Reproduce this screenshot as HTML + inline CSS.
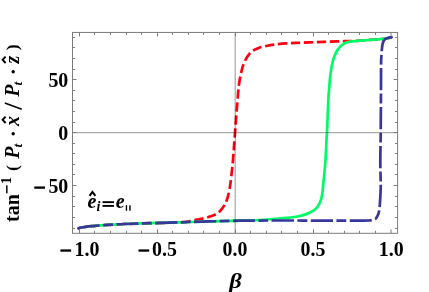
<!DOCTYPE html>
<html><head><meta charset="utf-8"><title>plot</title>
<style>html,body{margin:0;padding:0;background:#fff;width:429px;height:292px;overflow:hidden;font-family:"Liberation Serif",serif}</style>
</head><body>
<svg width="429" height="292" viewBox="0 0 429 292" style="position:absolute;left:0;top:0;will-change:transform">
<rect width="429" height="292" fill="#fff"/>
<g>
<rect width="429" height="292" fill="#fff"/>
<g fill="none" stroke-width="2.7" stroke-linejoin="round">
<path d="M78.70,228.90 C78.72,228.82 78.67,228.60 78.80,228.45 C78.93,228.30 79.13,228.16 79.50,228.00 C79.87,227.84 79.97,227.70 81.00,227.50 C82.03,227.30 83.95,227.02 85.70,226.80 C87.45,226.58 88.98,226.43 91.50,226.20 C94.02,225.97 97.12,225.67 100.80,225.40 C104.48,225.13 109.73,224.83 113.60,224.60 C117.47,224.37 117.93,224.23 124.00,224.00 C130.07,223.77 140.67,223.48 150.00,223.20 C159.33,222.92 173.75,222.57 180.00,222.30 C186.25,222.03 185.08,221.95 187.50,221.60 C189.92,221.25 192.57,220.60 194.50,220.20 C196.43,219.80 197.35,219.57 199.10,219.20 C200.85,218.83 203.05,218.48 205.00,218.00 C206.95,217.52 209.22,216.82 210.80,216.30 C212.38,215.78 213.35,215.47 214.50,214.90 C215.65,214.33 216.63,213.70 217.70,212.90 C218.77,212.10 219.68,211.55 220.90,210.10 C222.12,208.65 223.83,206.43 225.00,204.20 C226.17,201.97 227.06,199.73 227.90,196.70 C228.74,193.67 229.58,188.60 230.05,186.00 C230.52,183.40 230.41,183.47 230.70,181.10 C230.99,178.73 231.47,174.71 231.80,171.80 C232.13,168.89 232.45,166.37 232.70,163.65 C232.95,160.93 233.12,157.69 233.30,155.50 C233.48,153.31 233.60,152.53 233.75,150.50 C233.90,148.47 233.98,146.35 234.20,143.30 C234.42,140.25 234.78,136.00 235.06,132.20 C235.34,128.40 235.59,124.57 235.90,120.50 C236.21,116.43 236.60,111.47 236.90,107.80 C237.20,104.13 237.47,101.42 237.70,98.50 C237.93,95.58 238.12,92.33 238.30,90.30 C238.48,88.27 238.50,88.13 238.75,86.30 C239.00,84.47 239.43,81.43 239.80,79.30 C240.18,77.17 240.62,75.25 241.00,73.50 C241.38,71.75 241.72,70.22 242.10,68.80 C242.48,67.38 242.67,66.62 243.30,65.00 C243.93,63.38 244.88,60.95 245.90,59.10 C246.92,57.25 248.13,55.35 249.40,53.90 C250.67,52.45 251.85,51.43 253.50,50.40 C255.15,49.37 257.17,48.43 259.30,47.70 C261.43,46.97 263.77,46.52 266.30,46.00 C268.83,45.48 271.22,45.03 274.50,44.60 C277.78,44.17 282.40,43.68 286.00,43.40 C289.60,43.12 290.98,43.12 296.10,42.90 C301.22,42.68 309.85,42.35 316.70,42.10 C323.55,41.85 332.18,41.56 337.20,41.40 C342.22,41.24 343.83,41.21 346.80,41.15 C349.77,41.09 352.47,41.15 355.00,41.05 C357.53,40.95 359.50,40.74 362.00,40.55 C364.50,40.36 367.33,40.11 370.00,39.90 C372.67,39.69 375.33,39.52 378.00,39.30 C380.67,39.08 383.78,38.88 386.00,38.60 C388.22,38.32 390.42,37.77 391.30,37.60" stroke="#ff0010" stroke-dasharray="9.3 3.67" stroke-dashoffset="0.1"/>
<path d="M78.70,228.90 C78.72,228.82 78.67,228.60 78.80,228.45 C78.93,228.30 79.13,228.16 79.50,228.00 C79.87,227.84 79.97,227.70 81.00,227.50 C82.03,227.30 83.95,227.02 85.70,226.80 C87.45,226.58 88.98,226.43 91.50,226.20 C94.02,225.97 97.12,225.67 100.80,225.40 C104.48,225.13 109.73,224.83 113.60,224.60 C117.47,224.37 117.93,224.23 124.00,224.00 C130.07,223.77 140.67,223.48 150.00,223.20 C159.33,222.92 170.00,222.60 180.00,222.30 C190.00,222.00 200.00,221.68 210.00,221.40 C220.00,221.12 231.62,220.83 240.00,220.60 C248.38,220.37 254.52,220.28 260.30,220.00 C266.08,219.72 270.25,219.25 274.70,218.90 C279.15,218.55 283.23,218.30 287.00,217.90 C290.77,217.50 294.22,217.08 297.30,216.50 C300.38,215.92 303.10,215.20 305.50,214.40 C307.90,213.60 309.82,212.83 311.70,211.70 C313.58,210.57 315.43,209.13 316.80,207.60 C318.17,206.07 319.03,204.55 319.90,202.50 C320.77,200.45 321.40,198.72 322.00,195.30 C322.60,191.88 322.92,187.88 323.50,182.00 C324.08,176.12 325.00,167.00 325.50,160.00 C326.00,153.00 326.25,144.58 326.50,140.00 C326.75,135.42 326.77,137.50 327.00,132.50 C327.23,127.50 327.64,116.08 327.90,110.00 C328.16,103.92 328.30,100.12 328.55,96.00 C328.80,91.88 329.07,89.02 329.40,85.30 C329.72,81.58 329.97,77.53 330.50,73.65 C331.03,69.77 331.68,65.51 332.60,62.00 C333.52,58.49 334.72,55.20 336.00,52.60 C337.28,50.00 339.05,47.85 340.30,46.40 C341.55,44.95 342.28,44.61 343.50,43.90 C344.72,43.19 345.68,42.62 347.60,42.15 C349.52,41.67 352.60,41.32 355.00,41.05 C357.40,40.78 359.50,40.74 362.00,40.55 C364.50,40.36 367.33,40.11 370.00,39.90 C372.67,39.69 375.33,39.52 378.00,39.30 C380.67,39.08 383.78,38.88 386.00,38.60 C388.22,38.32 390.42,37.77 391.30,37.60" stroke="#00fc64"/>
<path d="M78.70,228.90 C78.72,228.82 78.67,228.60 78.80,228.45 C78.93,228.30 79.13,228.16 79.50,228.00 C79.87,227.84 79.97,227.70 81.00,227.50 C82.03,227.30 83.95,227.02 85.70,226.80 C87.45,226.58 88.98,226.43 91.50,226.20 C94.02,225.97 97.12,225.67 100.80,225.40 C104.48,225.13 109.73,224.83 113.60,224.60 C117.47,224.37 117.93,224.23 124.00,224.00 C130.07,223.77 140.67,223.48 150.00,223.20 C159.33,222.92 170.00,222.60 180.00,222.30 C190.00,222.00 200.00,221.67 210.00,221.40 C220.00,221.13 228.33,220.85 240.00,220.70 C251.67,220.55 265.00,220.52 280.00,220.50 C295.00,220.48 316.67,220.58 330.00,220.60 C343.33,220.62 353.50,220.62 360.00,220.60 C366.50,220.58 366.98,220.60 369.00,220.50 C371.02,220.40 371.18,220.22 372.10,220.00 C373.02,219.78 373.80,219.55 374.50,219.20 C375.20,218.85 375.60,218.97 376.30,217.90 C377.00,216.83 378.12,214.85 378.70,212.80 C379.27,210.75 379.47,208.52 379.75,205.60 C380.03,202.68 380.23,198.73 380.40,195.30 C380.57,191.87 380.77,190.55 380.75,185.00 C380.73,179.45 380.31,170.33 380.30,162.00 C380.29,153.67 380.58,147.83 380.70,135.00 C380.82,122.17 380.93,97.17 381.00,85.00 C381.07,72.83 381.02,67.03 381.10,62.00 C381.18,56.97 381.37,56.97 381.50,54.80 C381.63,52.63 381.75,50.65 381.90,49.00 C382.05,47.35 382.17,46.13 382.40,44.90 C382.63,43.67 382.87,42.55 383.30,41.60 C383.73,40.65 384.30,39.80 385.00,39.20 C385.70,38.60 386.45,38.32 387.50,38.00 C388.55,37.68 390.67,37.42 391.30,37.30" stroke="#36369b" stroke-dasharray="22.2 3.4 9.9 3.4" stroke-dashoffset="0.6"/>
<circle cx="391.4" cy="37.3" r="1.45" fill="#36369b" stroke="none"/>
<circle cx="78.7" cy="228.5" r="1.45" fill="#36369b" stroke="none"/>
</g>
<line x1="235.17" y1="32.45" x2="235.17" y2="233.3" stroke="#000" stroke-opacity="0.42" stroke-width="1.0"/>
<line x1="72.5" y1="132.7" x2="397.6" y2="132.7" stroke="#000" stroke-opacity="0.42" stroke-width="1.0"/>
<rect x="72.5" y="32.45" width="325.1" height="200.85000000000002" fill="none" stroke="#7c7c7c" stroke-width="1.0"/>
<path d="M79.50,233.3v-4.0M79.50,32.45v4.0M94.50,233.3v-2.5M94.50,32.45v2.5M110.50,233.3v-2.5M110.50,32.45v2.5M126.50,233.3v-2.5M126.50,32.45v2.5M141.50,233.3v-2.5M141.50,32.45v2.5M157.50,233.3v-4.0M157.50,32.45v4.0M172.50,233.3v-2.5M172.50,32.45v2.5M188.50,233.3v-2.5M188.50,32.45v2.5M203.50,233.3v-2.5M203.50,32.45v2.5M219.50,233.3v-2.5M219.50,32.45v2.5M235.50,233.3v-4.0M235.50,32.45v4.0M250.50,233.3v-2.5M250.50,32.45v2.5M266.50,233.3v-2.5M266.50,32.45v2.5M281.50,233.3v-2.5M281.50,32.45v2.5M297.50,233.3v-2.5M297.50,32.45v2.5M313.50,233.3v-4.0M313.50,32.45v4.0M328.50,233.3v-2.5M328.50,32.45v2.5M344.50,233.3v-2.5M344.50,32.45v2.5M359.50,233.3v-2.5M359.50,32.45v2.5M375.50,233.3v-2.5M375.50,32.45v2.5M391.00,233.3v-4.0M391.00,32.45v4.0M72.5,228.50h2.5M397.6,228.50h-2.5M72.5,217.50h2.5M397.6,217.50h-2.5M72.5,206.50h2.5M397.6,206.50h-2.5M72.5,196.50h2.5M397.6,196.50h-2.5M72.5,185.50h4.0M397.6,185.50h-4.0M72.5,174.50h2.5M397.6,174.50h-2.5M72.5,164.50h2.5M397.6,164.50h-2.5M72.5,153.50h2.5M397.6,153.50h-2.5M72.5,143.50h2.5M397.6,143.50h-2.5M72.5,132.50h4.0M397.6,132.50h-4.0M72.5,122.50h2.5M397.6,122.50h-2.5M72.5,111.50h2.5M397.6,111.50h-2.5M72.5,100.50h2.5M397.6,100.50h-2.5M72.5,90.50h2.5M397.6,90.50h-2.5M72.5,79.50h4.0M397.6,79.50h-4.0M72.5,69.50h2.5M397.6,69.50h-2.5M72.5,58.50h2.5M397.6,58.50h-2.5M72.5,47.50h2.5M397.6,47.50h-2.5M72.5,37.50h2.5M397.6,37.50h-2.5" stroke="#7c7c7c" stroke-width="1.0" fill="none"/>
<g font-family="Liberation Serif, serif" font-weight="bold" font-size="20px" fill="#000">
<g font-size="20.6px">
<text transform="translate(68.3,86.9) scale(0.965,1)" text-anchor="end">50</text>
<text transform="translate(68.3,139.9) scale(0.965,1)" text-anchor="end">0</text>
<text transform="translate(68.3,193.1) scale(0.965,1)" text-anchor="end">50</text>
<rect x="34.3" y="186.45" width="10.7" height="2.3"/>
<text transform="translate(74.6,256.0) scale(0.965,1)" text-anchor="start">1.0</text><rect x="60.4" y="249.4" width="10.7" height="2.3"/>
<text transform="translate(152.0,256.0) scale(0.965,1)" text-anchor="start">0.5</text><rect x="138.5" y="249.4" width="10.7" height="2.3"/>
<text transform="translate(235.0,256.0) scale(0.965,1)" text-anchor="middle">0.0</text>
<text transform="translate(313.0,256.0) scale(0.965,1)" text-anchor="middle">0.5</text>
<text transform="translate(391.2,256.0) scale(0.965,1)" text-anchor="middle">1.0</text>
</g>
<text transform="translate(235.6,288.2) scale(1.22,1)" text-anchor="middle" font-style="italic">β</text>
<text x="87.5" y="207.5" font-style="italic">e</text>
<text x="96.6" y="211.0" font-style="italic" font-size="14px">i</text>
<rect x="102.5" y="201.2" width="11.5" height="1.9"/><rect x="102.5" y="204.95" width="11.5" height="1.9"/>
<text x="115.8" y="207.5" font-style="italic">e</text>
<path d="M126.45,205.3v5.5M129.95,205.3v5.5" stroke="#000" stroke-width="1.4" fill="none"/>
<path d="M89.5,195.8L92.45,192.0L95.4,195.8" stroke="#000" stroke-width="2.0" fill="none" stroke-linejoin="miter"/>
<text transform="translate(18.7,222.0) rotate(-90)" >tan</text>
<rect x="6.1" y="185.3" width="1.45" height="8.0"/>
<text transform="translate(10.6,184.1) rotate(-90)" font-size="14px">1</text>
<text transform="translate(17.55,170.9) rotate(-90)" font-size="17.7px">(</text>
<text transform="translate(18.7,158.8) rotate(-90)" font-style="italic">P</text>
<text transform="translate(21.6,147.5) rotate(-90)" font-style="italic" font-size="13.5px">t</text>
<circle cx="13.2" cy="133.7" r="1.7"/>
<text transform="translate(18.7,126.0) rotate(-90)" font-style="italic">x</text>
<path d="M5.6,116.6L2.6,119.8L5.6,123.0" stroke="#000" stroke-width="1.9" fill="none"/>
<path d="M4.8,103.0L21.8,109.2" stroke="#000" stroke-width="1.45" fill="none"/>
<text transform="translate(18.7,96.7) rotate(-90)" font-style="italic">P</text>
<text transform="translate(21.6,85.4) rotate(-90)" font-style="italic" font-size="13.5px">t</text>
<circle cx="13.2" cy="71.8" r="1.7"/>
<text transform="translate(18.7,63.6) rotate(-90)" font-style="italic">z</text>
<path d="M5.6,56.6L2.6,59.8L5.6,63.0" stroke="#000" stroke-width="1.9" fill="none"/>
<text transform="translate(17.55,50.3) rotate(-90)" font-size="17.7px">)</text>
</g>
</g>
</svg>
</body></html>
